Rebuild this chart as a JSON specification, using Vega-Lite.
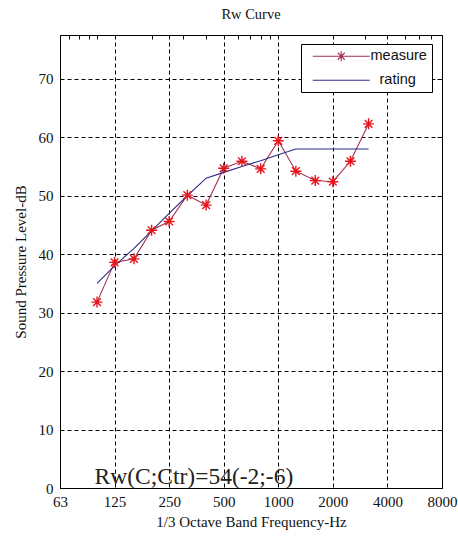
{
  "$schema": "https://vega.github.io/schema/vega-lite/v6.json",
  "width": 382,
  "height": 453,
  "autosize": {"type": "none"},
  "padding": {"left": 60, "top": 35, "right": 16, "bottom": 48},
  "background": "white",
  "title": {"text": "Rw Curve", "font": "Liberation Serif", "fontSize": 14.5, "fontWeight": "normal", "color": "#111", "offset": 12},
  "config": {
    "view": {"stroke": "black", "strokeWidth": 1},
    "axis": {
      "domainColor": "black",
      "labelFont": "Liberation Serif",
      "labelFontSize": 15,
      "labelColor": "#111",
      "titleFont": "Liberation Serif",
      "titleFontSize": 15,
      "titleFontWeight": "normal",
      "titleColor": "#111",
      "gridColor": "black",
      "gridOpacity": 1,
      "gridDash": [4, 3],
      "gridWidth": 1,
      "tickSize": 0,
      "tickColor": "black"
    }
  },
  "resolve": {"axis": {"x": "independent", "y": "independent"}},
  "datasets": {
    "curves": [
      {"freq": 100, "level": 31.8, "series": "measure"},
      {"freq": 125, "level": 38.6, "series": "measure"},
      {"freq": 160, "level": 39.2, "series": "measure"},
      {"freq": 200, "level": 44.1, "series": "measure"},
      {"freq": 250, "level": 45.6, "series": "measure"},
      {"freq": 315, "level": 50.1, "series": "measure"},
      {"freq": 400, "level": 48.4, "series": "measure"},
      {"freq": 500, "level": 54.7, "series": "measure"},
      {"freq": 630, "level": 55.9, "series": "measure"},
      {"freq": 800, "level": 54.6, "series": "measure"},
      {"freq": 1000, "level": 59.4, "series": "measure"},
      {"freq": 1250, "level": 54.2, "series": "measure"},
      {"freq": 1600, "level": 52.6, "series": "measure"},
      {"freq": 2000, "level": 52.4, "series": "measure"},
      {"freq": 2500, "level": 55.9, "series": "measure"},
      {"freq": 3150, "level": 62.3, "series": "measure"},
      {"freq": 100, "level": 35, "series": "rating"},
      {"freq": 125, "level": 38, "series": "rating"},
      {"freq": 160, "level": 41, "series": "rating"},
      {"freq": 200, "level": 44, "series": "rating"},
      {"freq": 250, "level": 47, "series": "rating"},
      {"freq": 315, "level": 50, "series": "rating"},
      {"freq": 400, "level": 53, "series": "rating"},
      {"freq": 500, "level": 54, "series": "rating"},
      {"freq": 630, "level": 55, "series": "rating"},
      {"freq": 800, "level": 56, "series": "rating"},
      {"freq": 1000, "level": 57, "series": "rating"},
      {"freq": 1250, "level": 58, "series": "rating"},
      {"freq": 1600, "level": 58, "series": "rating"},
      {"freq": 2000, "level": 58, "series": "rating"},
      {"freq": 2500, "level": 58, "series": "rating"},
      {"freq": 3150, "level": 58, "series": "rating"}
    ],
    "note": [
      {"freq": 97, "level": 0.6, "label": "Rw(C;Ctr)=54(-2;-6)"}
    ]
  },
  "layer": [
    {
      "data": {"name": "curves"},
      "mark": {"type": "line", "strokeWidth": 1.1},
      "encoding": {
        "x": {
          "field": "freq", "type": "quantitative",
          "scale": {"type": "log", "domain": [62.5, 8000], "nice": false},
          "axis": {
            "title": "1/3 Octave Band Frequency-Hz",
            "values": [62.5, 125, 250, 500, 1000, 2000, 4000, 8000],
            "labelExpr": "datum.value == 62.5 ? '63' : '' + datum.value",
            "labelPadding": 6,
            "titlePadding": 5,
            "grid": true,
            "labelFlush": false,
            "labelOverlap": false
          }
        },
        "y": {
          "field": "level", "type": "quantitative",
          "scale": {"domain": [0, 77.5], "nice": false, "zero": false},
          "axis": {
            "title": "Sound Pressure Level-dB",
            "values": [0, 10, 20, 30, 40, 50, 60, 70],
            "labelPadding": 7,
            "titlePadding": 10,
            "grid": true,
            "labelFlush": false
          }
        },
        "color": {
          "field": "series", "type": "nominal",
          "scale": {"domain": ["measure", "rating"], "range": ["#a3304f", "#2e2e8a"]},
          "legend": {
            "title": null,
            "orient": "none",
            "legendX": 241,
            "legendY": 9,
            "fillColor": "white",
            "strokeColor": "black",
            "padding": 5,
            "labelFont": "Liberation Sans",
            "labelFontSize": 14.5,
            "labelColor": "#111",
            "symbolSize": 100,
            "symbolStrokeWidth": 1.1,
            "symbolOffset": 28,
            "labelOffset": 22,
            "rowPadding": 8,
            "encode": {
              "symbols": {
                "update": {
                  "shape": {"signal": "datum.value == 'measure' ? 'M-5.7,0L5.7,0M0,-1L0,1M-0.7,-0.7L0.7,0.7M-0.7,0.7L0.7,-0.7' : 'M-5.7,0L5.7,0'"},
                  "fill": {"value": "transparent"}
                }
              },
              "labels": {
                "update": {
                  "dx": {"signal": "datum.value == 'rating' ? 9 : 0"}
                }
              }
            }
          }
        }
      }
    },
    {
      "data": {"name": "curves"},
      "transform": [{"filter": "datum.series == 'measure'"}],
      "mark": {
        "type": "point",
        "shape": "M-1,0L1,0M0,-1L0,1M-0.7,-0.7L0.7,0.7M-0.7,0.7L0.7,-0.7",
        "filled": false,
        "stroke": "#e8141c",
        "strokeWidth": 1.4,
        "size": 121,
        "opacity": 1
      },
      "encoding": {
        "x": {
          "field": "freq", "type": "quantitative",
          "axis": {
            "orient": "top",
            "title": null,
            "labels": false,
            "grid": false,
            "domain": false,
            "tickSize": -4,
            "values": [70, 80, 90, 100, 200, 300, 400, 600, 700, 800, 900, 3000, 5000, 6000, 7000]
          }
        },
        "y": {
          "field": "level", "type": "quantitative",
          "axis": {
            "orient": "right",
            "title": null,
            "labels": false,
            "grid": false,
            "domain": false,
            "tickSize": -5,
            "values": [10, 20, 30, 40, 50, 60, 70]
          }
        }
      }
    },
    {
      "data": {"name": "note"},
      "mark": {"type": "text", "font": "Liberation Serif", "fontSize": 23.5, "align": "left", "baseline": "alphabetic", "fill": "#222"},
      "encoding": {
        "x": {"field": "freq", "type": "quantitative", "axis": null},
        "y": {"field": "level", "type": "quantitative", "axis": null},
        "text": {"field": "label"}
      }
    }
  ]
}
